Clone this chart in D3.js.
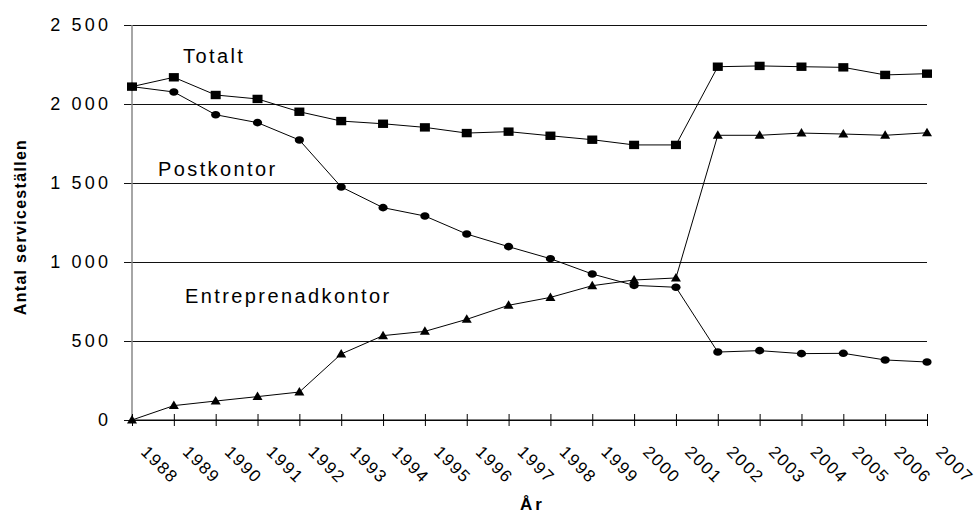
<!DOCTYPE html>
<html>
<head>
<meta charset="utf-8">
<script src="https://cdn.jsdelivr.net/npm/d3@7"></script>
<style>
  body { margin: 0; background: #fff; }
  svg { display: block; }
</style>
</head>
<body>
<div id="chart"></div>
<script>
const years = [1988, 1989, 1990, 1991, 1992, 1993, 1994, 1995, 1996, 1997,
               1998, 1999, 2000, 2001, 2002, 2003, 2004, 2005, 2006, 2007];
const totalt = [2110, 2169, 2057, 2032, 1951, 1892, 1875, 1852, 1816, 1825,
                1799, 1774, 1741, 1741, 2236, 2241, 2236, 2232, 2184, 2192];
const postkontor = [2110, 2076, 1932, 1882, 1772, 1475, 1344, 1291, 1177, 1097,
                    1021, 924, 852, 840, 430, 439, 420, 422, 380, 367];
const entreprenadkontor = [0, 91, 120, 148, 177, 418, 534, 561, 637, 726,
                           776, 850, 886, 899, 1802, 1802, 1816, 1810, 1802, 1818];
const yTicks = [0, 500, 1000, 1500, 2000, 2500];
const seriesNames = ['Totalt', 'Postkontor', 'Entreprenadkontor'];

const width = 978;
const height = 513;
const margin = { top: 25, right: 51, bottom: 93, left: 132 };
const canvasWidth = width - margin.left - margin.right;
const canvasHeight = height - margin.top - margin.bottom;
const font = 'Arial, "Liberation Sans", sans-serif';

const svg = d3.select('#chart')
  .append('svg')
  .attr('width', width)
  .attr('height', height);

const g = svg.append('g')
  .attr('transform', `translate(${margin.left}, ${margin.top})`);

const x = d3.scalePoint().domain(years).range([0, canvasWidth]);
const y = d3.scaleLinear().domain([0, 2500]).range([canvasHeight, 0]);

const sv = d3.formatLocale({ decimal: ',', thousands: ' ', grouping: [3], currency: ['', ' kr'] });
const fmt = sv.format(',');

// gridlines (they run into the left tick marks)
const yAxis = g.append('g')
  .attr('class', 'axis axis--y')
  .call(d3.axisLeft(y).tickValues(yTicks).tickSize(-canvasWidth).tickPadding(0).tickFormat(''));
yAxis.select('.domain').remove();
yAxis.selectAll('.tick line')
  .attr('x1', -8)
  .attr('stroke', '#111')
  .attr('stroke-width', 1);

// y tick labels
g.append('g')
  .selectAll('text')
  .data(yTicks)
  .enter().append('text')
  .attr('x', -24 + 3.2)
  .attr('y', d => y(d))
  .attr('dy', '0.36em')
  .attr('text-anchor', 'end')
  .attr('font-family', font)
  .attr('font-size', '18px')
  .attr('letter-spacing', '3.2px')
  .attr('fill', '#000')
  .text(d => fmt(d));

// y axis line (grey)
g.append('line')
  .attr('x1', 0).attr('x2', 0)
  .attr('y1', 0).attr('y2', canvasHeight)
  .attr('stroke', '#888')
  .attr('stroke-width', 1.5);

// x axis
const xAxis = g.append('g')
  .attr('class', 'axis axis--x')
  .attr('transform', `translate(0, ${canvasHeight})`)
  .call(d3.axisBottom(x).tickSize(6).tickFormat(''));
xAxis.select('.domain').attr('stroke', '#000').attr('d', `M0,0H${canvasWidth}`);
xAxis.selectAll('.tick line').attr('y1', -6).attr('stroke', '#000');

g.append('g')
  .selectAll('text')
  .data(years)
  .enter().append('text')
  .attr('transform', d => `translate(${x(d) + 8}, ${canvasHeight + 33}) rotate(45)`)
  .attr('font-family', font)
  .attr('font-size', '17px')
  .attr('letter-spacing', '1.6px')
  .attr('fill', '#000')
  .text(d => d);

// lines
const line = d3.line()
  .x((d, i) => x(years[i]))
  .y(d => y(d));

const data = [postkontor, entreprenadkontor, totalt];
data.forEach(function (values) {
  g.append('path')
    .datum(values)
    .attr('fill', 'none')
    .attr('stroke', '#000')
    .attr('stroke-width', 1)
    .attr('d', line);
});

// markers
g.append('g')
  .selectAll('ellipse')
  .data(postkontor)
  .enter().append('ellipse')
  .attr('cx', (d, i) => x(years[i]))
  .attr('cy', d => y(d))
  .attr('rx', 4.6)
  .attr('ry', 3.8)
  .attr('fill', '#000');

g.append('g')
  .selectAll('path')
  .data(entreprenadkontor)
  .enter().append('path')
  .attr('transform', (d, i) => `translate(${x(years[i])}, ${y(d)})`)
  .attr('d', 'M0,-5L5,3.5L-5,3.5Z')
  .attr('fill', '#000');

g.append('g')
  .selectAll('rect')
  .data(totalt)
  .enter().append('rect')
  .attr('x', (d, i) => x(years[i]) - 5)
  .attr('y', d => y(d) - 4.2)
  .attr('width', 10)
  .attr('height', 8.4)
  .attr('fill', '#000');

// series labels
const labelPos = [[183, 63], [158, 176], [185, 303]];
seriesNames.forEach(function (name, i) {
  svg.append('text')
    .attr('x', labelPos[i][0])
    .attr('y', labelPos[i][1])
    .attr('font-family', font)
    .attr('font-size', '20px')
    .attr('letter-spacing', '2.4px')
    .attr('fill', '#000')
    .text(name);
});

// axis titles
svg.append('text')
  .attr('transform', `translate(26, 227) rotate(-90)`)
  .attr('text-anchor', 'middle')
  .attr('font-family', font)
  .attr('font-size', '16px')
  .attr('font-weight', 'bold')
  .attr('letter-spacing', '1.3px')
  .text('Antal serviceställen');

svg.append('text')
  .attr('x', margin.left + canvasWidth / 2 + 3)
  .attr('y', 510)
  .attr('text-anchor', 'middle')
  .attr('font-family', font)
  .attr('font-size', '17px')
  .attr('font-weight', 'bold')
  .attr('letter-spacing', '3px')
  .text('År');
</script>
</body>
</html>
